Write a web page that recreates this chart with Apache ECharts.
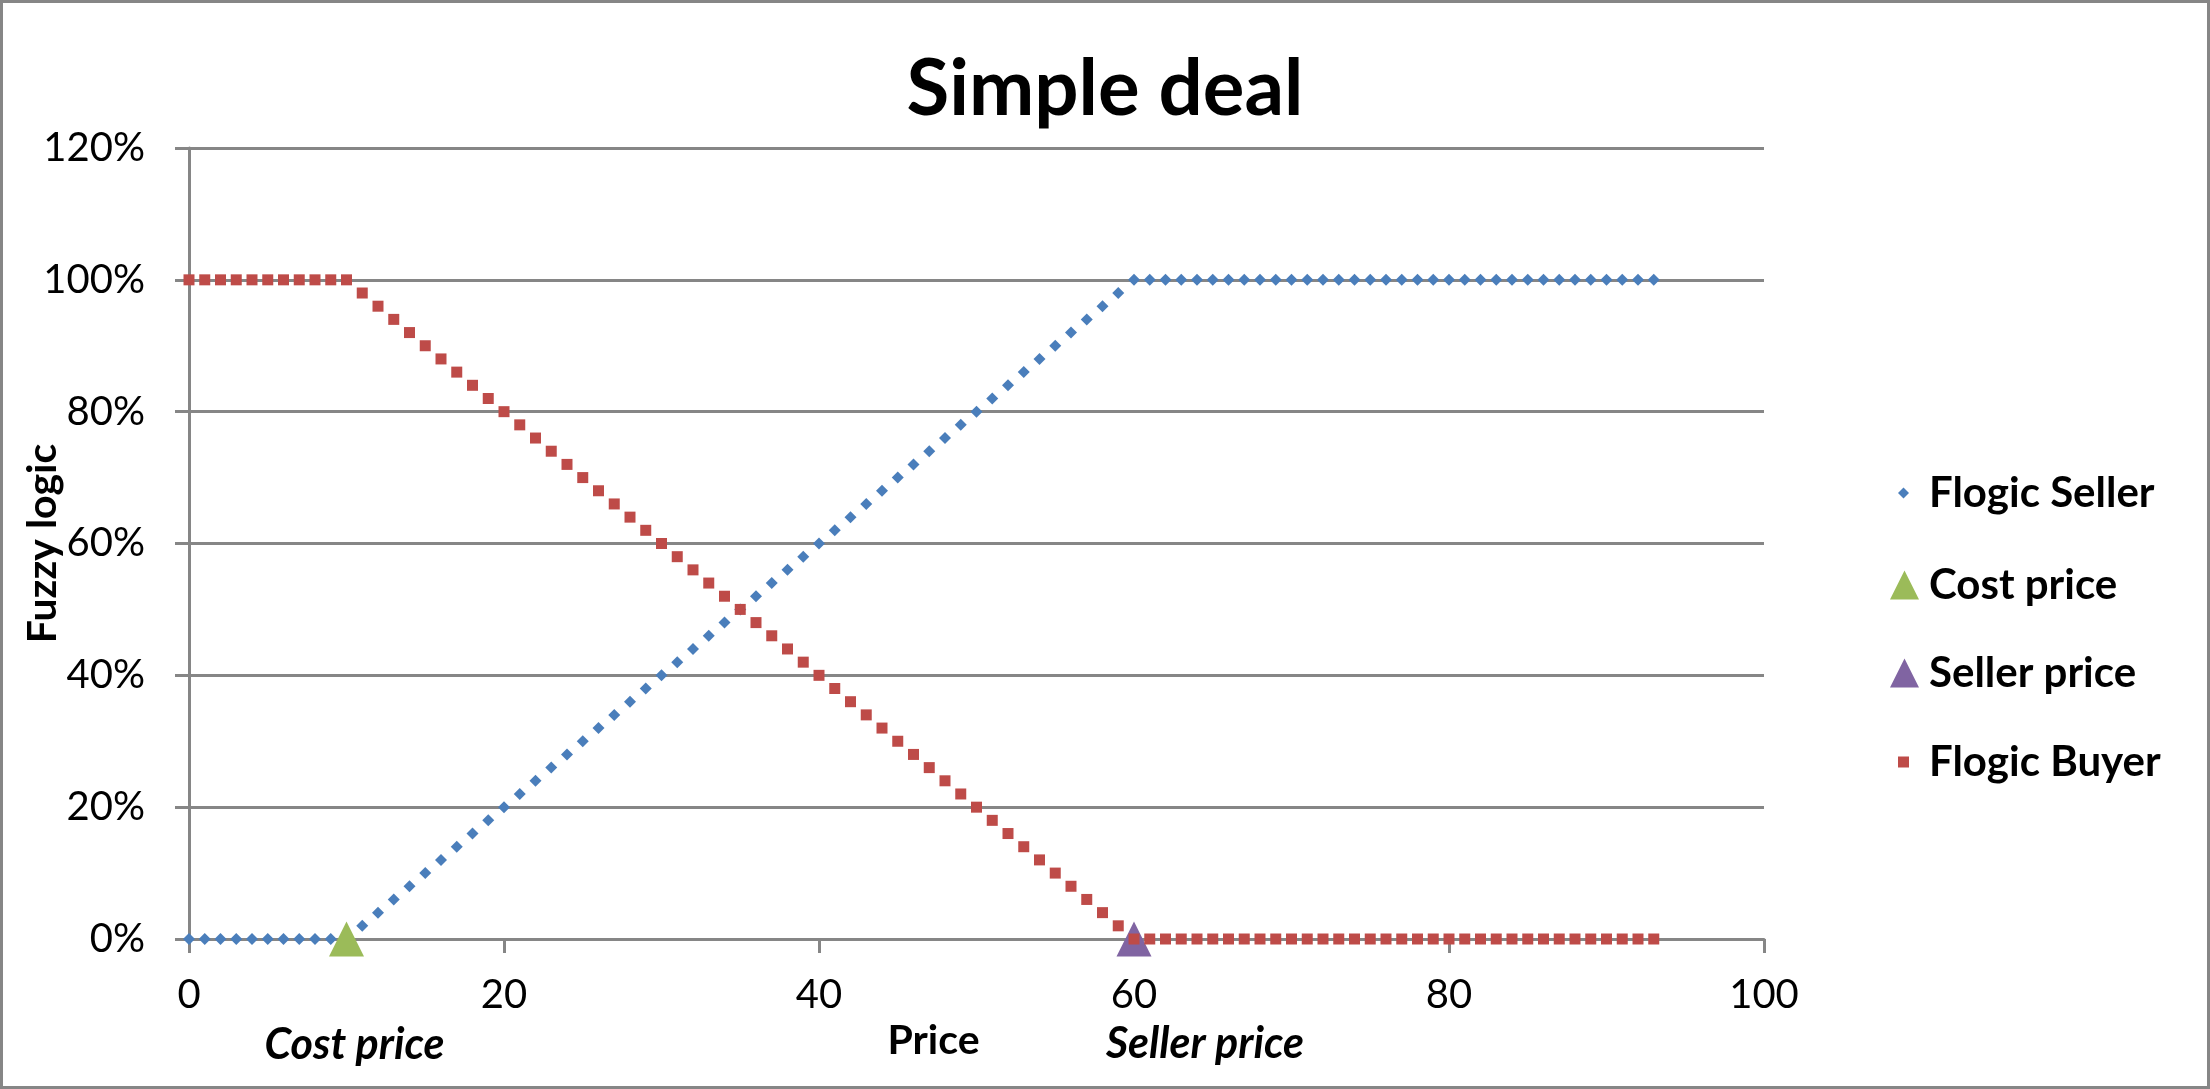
<!DOCTYPE html>
<html>
<head>
<meta charset="utf-8">
<script src="https://cdn.jsdelivr.net/npm/echarts@6/dist/echarts.min.js"></script>
<style>
html, body { margin: 0; padding: 0; background: #ffffff; }
#deal { width: 2210px; height: 1089px; }
</style>
</head>
<body>
<div id="deal"></div>
<script>
// price steps (x)
var price = [0,1,2,3,4,5,6,7,8,9,10,11,12,13,14,15,16,17,18,19,20,21,22,23,24,25,26,27,28,29,30,
  31,32,33,34,35,36,37,38,39,40,41,42,43,44,45,46,47,48,49,50,51,52,53,54,55,56,57,58,59,60,
  61,62,63,64,65,66,67,68,69,70,71,72,73,74,75,76,77,78,79,80,81,82,83,84,85,86,87,88,89,90,91,92,93];

// fuzzy logic values in %
var flogicSeller = [0,0,0,0,0,0,0,0,0,0,0,
  2,4,6,8,10,12,14,16,18,20,22,24,26,28,30,32,34,36,38,40,42,44,46,48,50,
  52,54,56,58,60,62,64,66,68,70,72,74,76,78,80,82,84,86,88,90,92,94,96,98,100,
  100,100,100,100,100,100,100,100,100,100,100,100,100,100,100,100,100,100,100,100,100,100,100,100,100,100,100,100,100,100,100,100,100];

var flogicBuyer = [100,100,100,100,100,100,100,100,100,100,100,
  98,96,94,92,90,88,86,84,82,80,78,76,74,72,70,68,66,64,62,60,58,56,54,52,50,
  48,46,44,42,40,38,36,34,32,30,28,26,24,22,20,18,16,14,12,10,8,6,4,2,0,
  0,0,0,0,0,0,0,0,0,0,0,0,0,0,0,0,0,0,0,0,0,0,0,0,0,0,0,0,0,0,0,0,0];

var costPrice = [[10, 0]];
var sellerPrice = [[60, 0]];

function pairs(xs, ys) {
  var out = [];
  for (var i = 0; i < xs.length; i++) out.push([xs[i], ys[i]]);
  return out;
}

var FONT = 'Lato';
var GRID_COLOR = '#868686';

var Chart = echarts.init(document.getElementById('deal'));

function legendItem(name, icon, size, left, top) {
  return {
    data: [name],
    orient: 'vertical',
    left: left,
    top: top,
    padding: 0,
    icon: icon,
    itemWidth: size,
    itemHeight: size,
    textStyle: {
      fontFamily: FONT,
      fontWeight: 'bold',
      fontSize: 42,
      lineHeight: 46,
      color: '#000000',
      padding: [0, 0, 0, size < 20 ? 15 : 5]
    }
  };
}

Chart.setOption({
  animation: false,
  backgroundColor: '#ffffff',
  title: {
    text: 'Simple deal',
    left: 'center',
    top: 46,
    textStyle: { fontFamily: FONT, fontWeight: 'bold', fontSize: 78, color: '#000000' }
  },
  legend: [
    legendItem('Flogic Seller', 'diamond', 11, 1898, 470),
    legendItem('Cost price', 'triangle', 29, 1890, 562),
    legendItem('Seller price', 'triangle', 29, 1890, 650),
    legendItem('Flogic Buyer', 'rect', 11, 1898, 739)
  ],
  grid: { left: 189, right: 446, top: 148, bottom: 150, containLabel: false, outerBoundsMode: 'none' },
  xAxis: {
    type: 'value',
    min: 0,
    max: 100,
    interval: 20,
    name: 'Price',
    nameLocation: 'middle',
    nameGap: 80,
    nameTextStyle: {
      fontFamily: FONT, fontWeight: 'bold', fontSize: 41, color: '#000000',
      padding: [0, 86, 0, 0]
    },
    axisLine: { lineStyle: { color: GRID_COLOR, width: 3 } },
    axisTick: { show: true, inside: false, length: 14, lineStyle: { color: GRID_COLOR, width: 3 } },
    axisLabel: { fontFamily: FONT, fontSize: 40, color: '#000000', margin: 36 },
    splitLine: { show: false }
  },
  yAxis: {
    type: 'value',
    min: 0,
    max: 120,
    interval: 20,
    name: 'Fuzzy logic',
    nameLocation: 'middle',
    nameGap: 126,
    nameMoveOverlap: false,
    nameTextStyle: { fontFamily: FONT, fontWeight: 'bold', fontSize: 41, color: '#000000' },
    axisLine: { show: true, lineStyle: { color: GRID_COLOR, width: 3 } },
    axisTick: { show: true, inside: false, length: 14, lineStyle: { color: GRID_COLOR, width: 3 } },
    axisLabel: { fontFamily: FONT, fontSize: 40, color: '#000000', margin: 44, formatter: '{value}%' },
    splitLine: { show: true, lineStyle: { color: GRID_COLOR, width: 3 } }
  },
  series: [
    {
      name: 'Flogic Seller',
      type: 'scatter',
      symbol: 'diamond',
      symbolSize: 12,
      itemStyle: { color: '#4a7ebb', opacity: 1 },
      data: pairs(price, flogicSeller)
    },
    {
      name: 'Cost price',
      type: 'scatter',
      symbol: 'triangle',
      symbolSize: 35,
      itemStyle: { color: '#9bbb59', opacity: 1 },
      label: {
        show: true,
        position: 'inside',
        offset: [8, 106],
        formatter: 'Cost price',
        fontFamily: FONT, fontWeight: 'bold', fontStyle: 'italic', fontSize: 43, color: '#000000'
      },
      data: costPrice
    },
    {
      name: 'Seller price',
      type: 'scatter',
      symbol: 'triangle',
      symbolSize: 35,
      itemStyle: { color: '#8064a2', opacity: 1 },
      label: {
        show: true,
        position: 'inside',
        offset: [71, 105],
        formatter: 'Seller price',
        fontFamily: FONT, fontWeight: 'bold', fontStyle: 'italic', fontSize: 43, color: '#000000'
      },
      data: sellerPrice
    },
    {
      name: 'Flogic Buyer',
      type: 'scatter',
      symbol: 'rect',
      symbolSize: 11,
      itemStyle: { color: '#be4b48', opacity: 1 },
      data: pairs(price, flogicBuyer)
    }
  ],
  graphic: [
    {
      type: 'rect',
      silent: true,
      shape: { x: 1.5, y: 1.5, width: 2207, height: 1086 },
      style: { fill: null, stroke: GRID_COLOR, lineWidth: 3 }
    }
  ]
});
</script>
</body>
</html>
